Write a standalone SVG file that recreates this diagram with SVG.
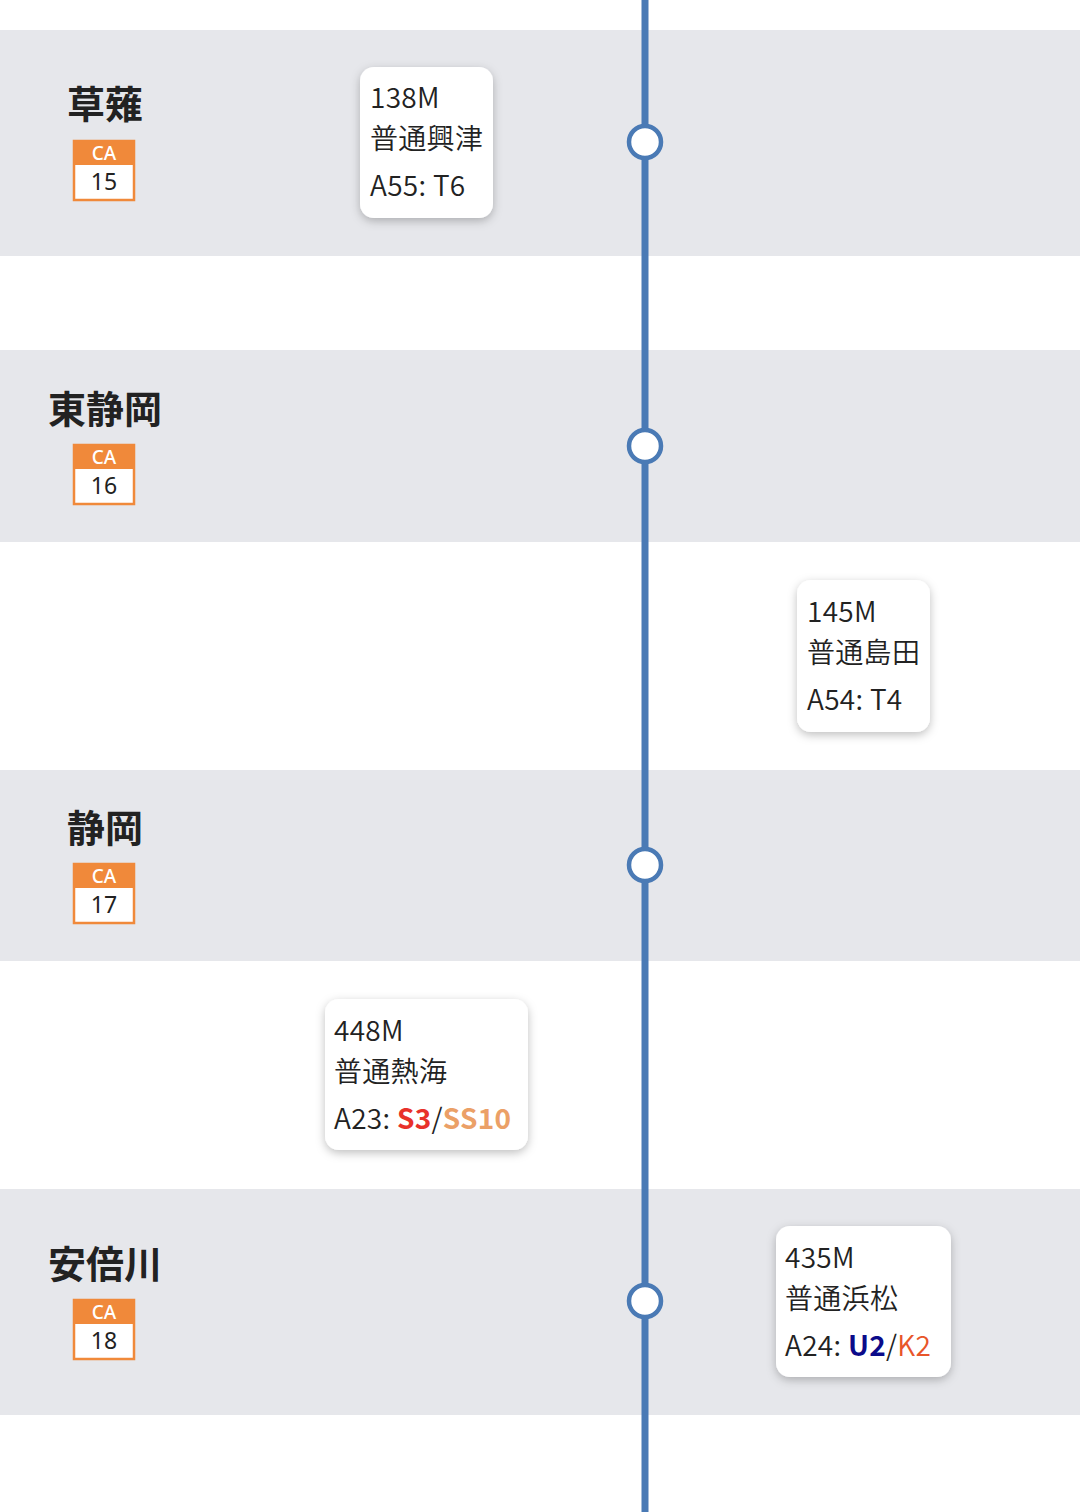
<svg xmlns="http://www.w3.org/2000/svg" width="1080" height="1512" viewBox="0 0 1080 1512">
<defs>
<filter id="sh" x="-20%" y="-20%" width="140%" height="150%">
<feDropShadow dx="0" dy="3" stdDeviation="5" flood-color="#000" flood-opacity="0.25"/>
</filter>
<style>
.band{fill:#e6e7eb}
.st{font-family:"Noto Sans CJK JP","Noto Sans",sans-serif;font-size:38px;font-weight:700;fill:#222;text-anchor:middle}
.bh{fill:#f0893a}
.bb{fill:#fff;stroke:#f0893a;stroke-width:2.5}
.bt1{font-family:"Noto Sans","Noto Sans CJK JP",sans-serif;font-size:19px;font-weight:500;fill:#fff;text-anchor:middle}
.bt2{font-family:"Noto Sans","Noto Sans CJK JP",sans-serif;font-size:23px;fill:#222;text-anchor:middle}
.card{fill:#fff;filter:url(#sh)}
.ct{font-family:"Noto Sans CJK JP","Noto Sans",sans-serif;font-size:28px;font-weight:350;fill:#222;letter-spacing:0.3px}
.node{fill:#fff;stroke:#4a7ab5;stroke-width:4.5}
.line{stroke:#4a7ab5;stroke-width:7}
</style>
</defs>
<rect width="1080" height="1512" fill="#fff"/>
<rect class="band" x="0" y="30" width="1080" height="226"/>
<rect class="band" x="0" y="350" width="1080" height="192"/>
<rect class="band" x="0" y="770" width="1080" height="191"/>
<rect class="band" x="0" y="1189" width="1080" height="226"/>

<g id="connectors">
<line class="line" x1="645" y1="0" x2="645" y2="1512"/>
</g>

<g id="card-top"><rect class="card" x="776" y="-160" width="174" height="159" rx="14"/></g>

<g id="st-ca15">
<text class="st" x="105" y="118">草薙</text>
<rect class="bb" x="74" y="141" width="60" height="59"/>
<rect class="bh" x="73" y="140" width="62" height="25"/>
<text class="bt1" x="104" y="160">CA</text>
<text class="bt2" x="104" y="190">15</text>
<circle class="node" cx="645" cy="142" r="16"/>
</g>
<g id="st-ca16">
<text class="st" x="105" y="423">東静岡</text>
<rect class="bb" x="74" y="445" width="60" height="59"/>
<rect class="bh" x="73" y="444" width="62" height="25"/>
<text class="bt1" x="104" y="464">CA</text>
<text class="bt2" x="104" y="494">16</text>
<circle class="node" cx="645" cy="446" r="16"/>
</g>
<g id="st-ca17">
<text class="st" x="105" y="842">静岡</text>
<rect class="bb" x="74" y="864" width="60" height="59"/>
<rect class="bh" x="73" y="863" width="62" height="25"/>
<text class="bt1" x="104" y="883">CA</text>
<text class="bt2" x="104" y="913">17</text>
<circle class="node" cx="645" cy="865" r="16"/>
</g>
<g id="st-ca18">
<text class="st" x="105" y="1278">安倍川</text>
<rect class="bb" x="74" y="1300" width="60" height="59"/>
<rect class="bh" x="73" y="1299" width="62" height="25"/>
<text class="bt1" x="104" y="1319">CA</text>
<text class="bt2" x="104" y="1349">18</text>
<circle class="node" cx="645" cy="1301" r="16"/>
</g>

<g id="card-138M">
<rect class="card" x="360" y="67" width="133" height="151" rx="14"/>
<text class="ct" x="370" y="108">138M</text>
<text class="ct" x="370" y="149">普通興津</text>
<text class="ct" x="370" y="196">A55: T6</text>
</g>
<g id="card-145M">
<rect class="card" x="797" y="580" width="133" height="152" rx="14"/>
<text class="ct" x="807" y="622">145M</text>
<text class="ct" x="807" y="663">普通島田</text>
<text class="ct" x="807" y="710">A54: T4</text>
</g>
<g id="card-448M">
<rect class="card" x="325" y="999" width="203" height="151" rx="14"/>
<text class="ct" x="334" y="1041">448M</text>
<text class="ct" x="334" y="1082">普通熱海</text>
<text class="ct" x="334" y="1129">A23: <tspan font-weight="700" fill="#e8312a">S3</tspan>/<tspan font-weight="700" fill="#eba067">SS10</tspan></text>
</g>
<g id="card-435M">
<rect class="card" x="776" y="1226" width="175" height="151" rx="14"/>
<text class="ct" x="785" y="1268">435M</text>
<text class="ct" x="785" y="1309">普通浜松</text>
<text class="ct" x="785" y="1356">A24: <tspan font-weight="700" fill="#0b0b8a">U2</tspan>/<tspan fill="#e8552a">K2</tspan></text>
</g>
</svg>
